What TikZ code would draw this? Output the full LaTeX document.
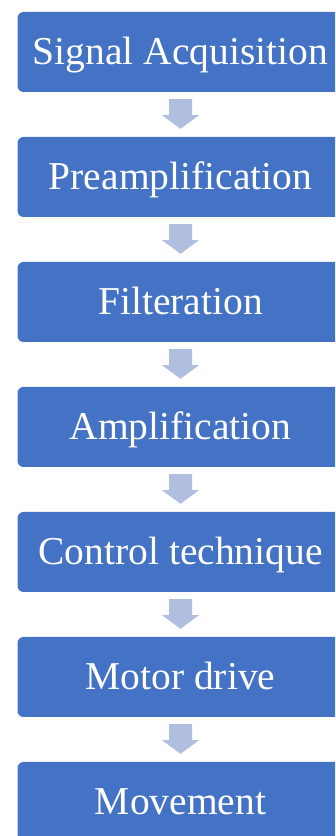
\documentclass[tikz,border=0pt]{standalone}
\usepackage{fontspec}
\setmainfont{Liberation Serif}
\usetikzlibrary{calc}
\definecolor{stagefill}{HTML}{4472C4}
\definecolor{arrowfill}{HTML}{B0BEE0}
\tikzset{
  stagebox/.style={fill=stagefill, draw=none, rounded corners=6pt,
    minimum width=326pt, minimum height=80pt, inner sep=0pt},
  stagelabel/.style={text=white, font=\fontsize{39.5}{46}\selectfont,
    anchor=base, inner sep=0pt},
}
% block arrow pointing down from the bottom of #1 to just above #2
\newcommand{\flowarrow}[2]{%
  \fill[arrowfill]
    ($(#1.south)+(-11.5,-7)$) -- ($(#1.south)+(11.5,-7)$) --
    ($(#1.south)+(11.5,-23)$) -- ($(#1.south)+(18.5,-23)$) --
    ($(#2.north)+(0,8)$) --
    ($(#1.south)+(-18.5,-23)$) -- ($(#1.south)+(-11.5,-23)$) -- cycle;}
\begin{document}
\begin{tikzpicture}[x=1pt,y=1pt]
\useasboundingbox (0,0) rectangle (335,836);
\clip (0,0) rectangle (335,836);
\foreach \name/\ypos/\label in {
    s1/784/Signal Acquisition,
    s2/659/Preamplification,
    s3/534/Filteration,
    s4/409/Amplification,
    s5/284/Control technique,
    s6/159/Motor drive,
    s7/34/Movement}{
  \node[stagebox] (\name) at (180.5,\ypos) {};
  \node[stagelabel] (\name-label) at ($(\name.center)+(0,-13)$) {\label};
}
\flowarrow{s1}{s2}
\flowarrow{s2}{s3}
\flowarrow{s3}{s4}
\flowarrow{s4}{s5}
\flowarrow{s5}{s6}
\flowarrow{s6}{s7}
\end{tikzpicture}
\end{document}
